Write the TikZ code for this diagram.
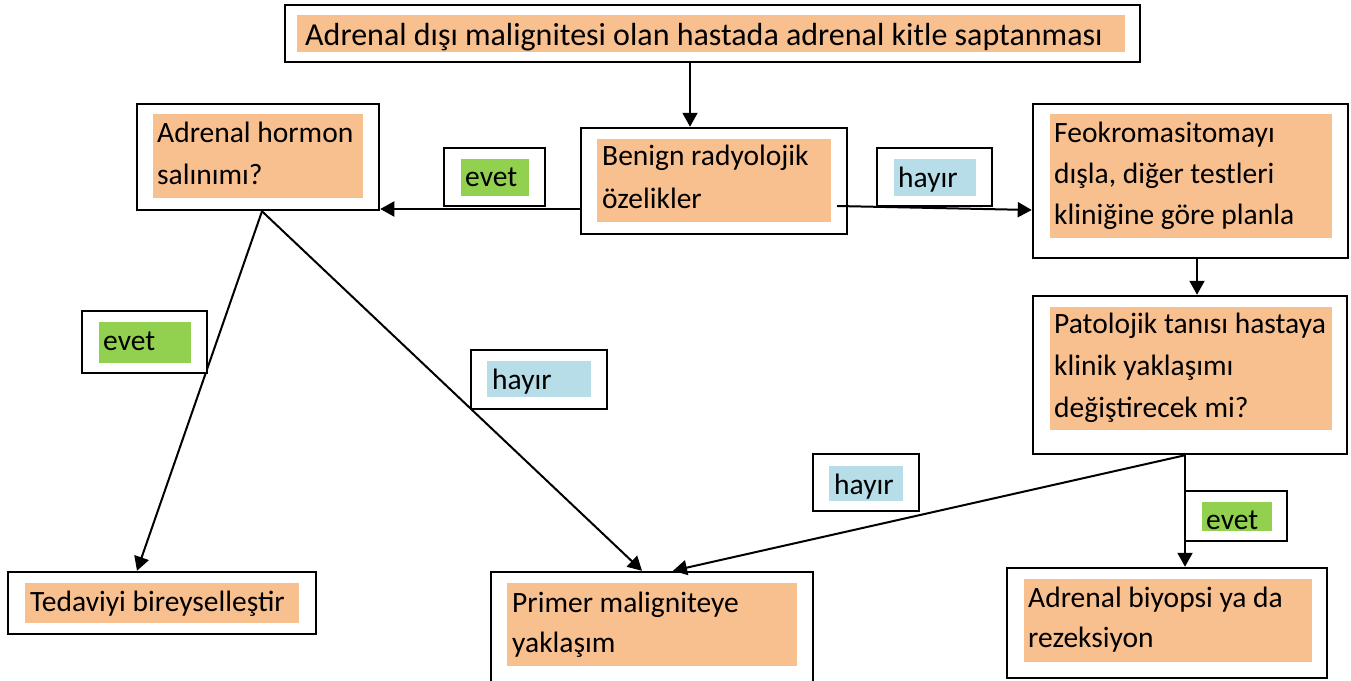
\documentclass[tikz,border=0pt]{standalone}
\usepackage{fontspec}
\setmainfont{Carlito}
\usetikzlibrary{arrows.meta,fit}
\definecolor{org}{HTML}{F8BF8F}
\definecolor{grn}{HTML}{92D050}
\definecolor{blu}{HTML}{B7DEE8}
\begin{document}
\begin{tikzpicture}[x=1pt,y=-1pt,
  box/.style={draw=black,line width=2.5pt,inner sep=0pt,fill=white},
  lbl/.style={draw=black,line width=2pt,inner sep=0pt,fill=white},
  ofill/.style={fill=org,draw=none,inner sep=0pt},
  gfill/.style={fill=grn,draw=none,inner sep=0pt},
  bfill/.style={fill=blu,draw=none,inner sep=0pt},
  txt/.style={anchor=base west,inner sep=0pt,font=\fontsize{29.5pt}{35pt}\selectfont},
  bigtxt/.style={txt,font=\fontsize{32pt}{38pt}\selectfont},
  arr/.style={line width=2pt,-{Triangle[length=14pt,width=15pt]}},
  ln/.style={line width=2pt}]
\useasboundingbox (0,0) rectangle (1351,680);
\clip (0,0) rectangle (1351,680);
\fill[white] (0,0) rectangle (1351,680);

% helper coordinates
\coordinate (x690) at (690,0);
\coordinate (y209) at (0,209);
\coordinate (x1197) at (1197,0);
\coordinate (x1185) at (1185,0);
\coordinate (x262) at (262,0);
\coordinate (x137) at (137,0);
\coordinate (x642) at (642,0);
\coordinate (x673) at (673,0);
\coordinate (bR) at (837,206);
\coordinate (y210) at (0,210);

% main boxes
\node[box,fit={(285,5) (1140,62)}] (top) {};
\node[ofill,fit={(297,15) (1125,52)}] (topbg) {};
\node[bigtxt] (toptx) at (305,45) {Adrenal dışı malignitesi olan hastada adrenal kitle saptanması};

\node[box,fit={(581,128) (847,234)}] (benign) {};
\node[ofill,fit={(597,139) (831,222)}] (benignbg) {};
\node[txt] (benigntx1) at (602,165) {Benign radyolojik};
\node[txt] (benigntx2) at (602,208) {özelikler};

\node[box,fit={(137,104) (379,210)}] (hormon) {};
\node[ofill,fit={(153,114) (363,198)}] (hormonbg) {};
\node[txt] (hormontx1) at (157,142) {Adrenal hormon};
\node[txt] (hormontx2) at (157,184) {salınımı?};

\node[box,fit={(1033,104) (1348,258)}] (feo) {};
\node[ofill,fit={(1050,114) (1332,238)}] (feobg) {};
\node[txt] (feotx1) at (1054,142) {Feokromasitomayı};
\node[txt] (feotx2) at (1054,183) {dışla, diğer testleri};
\node[txt] (feotx3) at (1054,224) {kliniğine göre planla};

\node[box,fit={(1033,296) (1347,454)}] (pato) {};
\node[ofill,fit={(1050,307) (1332,430)}] (patobg) {};
\node[txt] (patotx1) at (1054,333) {Patolojik tanısı hastaya};
\node[txt] (patotx2) at (1054,375) {klinik yaklaşımı};
\node[txt] (patotx3) at (1054,417) {değiştirecek mi?};

\node[box,fit={(8,572) (316,634)}] (tedavi) {};
\node[ofill,fit={(25,583) (299,623)}] (tedavibg) {};
\node[txt] (tedavitx) at (30,611) {Tedaviyi bireyselleştir};

\node[box,fit={(491,572) (813,700)}] (primer) {};
\node[ofill,fit={(507,583) (797,666)}] (primerbg) {};
\node[txt] (primertx1) at (512,612) {Primer maligniteye};
\node[txt] (primertx2) at (512,652) {yaklaşım};

\node[box,fit={(1007,568) (1327,678)}] (biyo) {};
\node[ofill,fit={(1024,579) (1312,662)}] (biyobg) {};
\node[txt] (biyotx1) at (1028,607) {Adrenal biyopsi ya da};
\node[txt] (biyotx2) at (1028,647) {rezeksiyon};

% connectors
\draw[arr] (top.south -| x690) -- (benign.north -| x690);
\draw[arr] (benign.west |- y209) -- (hormon.east |- y209);
\draw[arr] (bR) -- (feo.west |- y210);
\draw[arr] (feo.south -| x1197) -- (pato.north -| x1197);
\draw[arr] (pato.south -| x1185) -- (biyo.north -| x1185);
\draw[arr] (pato.south -| x1185) -- (primer.north -| x673);
\draw[arr] (hormon.south -| x262) -- (tedavi.north -| x137);
\draw[arr] (hormon.south -| x262) -- (primer.north -| x642);

% labels
\node[lbl,fit={(444,148) (545,206)}] (evet1) {};
\node[gfill,fit={(461,159) (529,196)}] (evet1bg) {};
\node[txt] (evet1tx) at (465,186) {evet};

\node[lbl,fit={(877,148) (992,206)}] (hayir1) {};
\node[bfill,fit={(894,159) (976,196)}] (hayir1bg) {};
\node[txt] (hayir1tx) at (898,187) {hayır};

\node[lbl,fit={(82,311) (207,373)}] (evet2) {};
\node[gfill,fit={(99,322) (191,363)}] (evet2bg) {};
\node[txt] (evet2tx) at (103,350) {evet};

\node[lbl,fit={(471,350) (607,409)}] (hayir2) {};
\node[bfill,fit={(487,361) (591,397)}] (hayir2bg) {};
\node[txt] (hayir2tx) at (492,389) {hayır};

\node[lbl,fit={(813,454) (919,511)}] (hayir3) {};
\node[bfill,fit={(829,466) (903,501)}] (hayir3bg) {};
\node[txt] (hayir3tx) at (834,494) {hayır};

\node[lbl,fit={(1185,491) (1287,541)}] (evet3) {};
\node[gfill,fit={(1202,502) (1272,531)}] (evet3bg) {};
\node[txt] (evet3tx) at (1206,529) {evet};
\end{tikzpicture}
\end{document}
